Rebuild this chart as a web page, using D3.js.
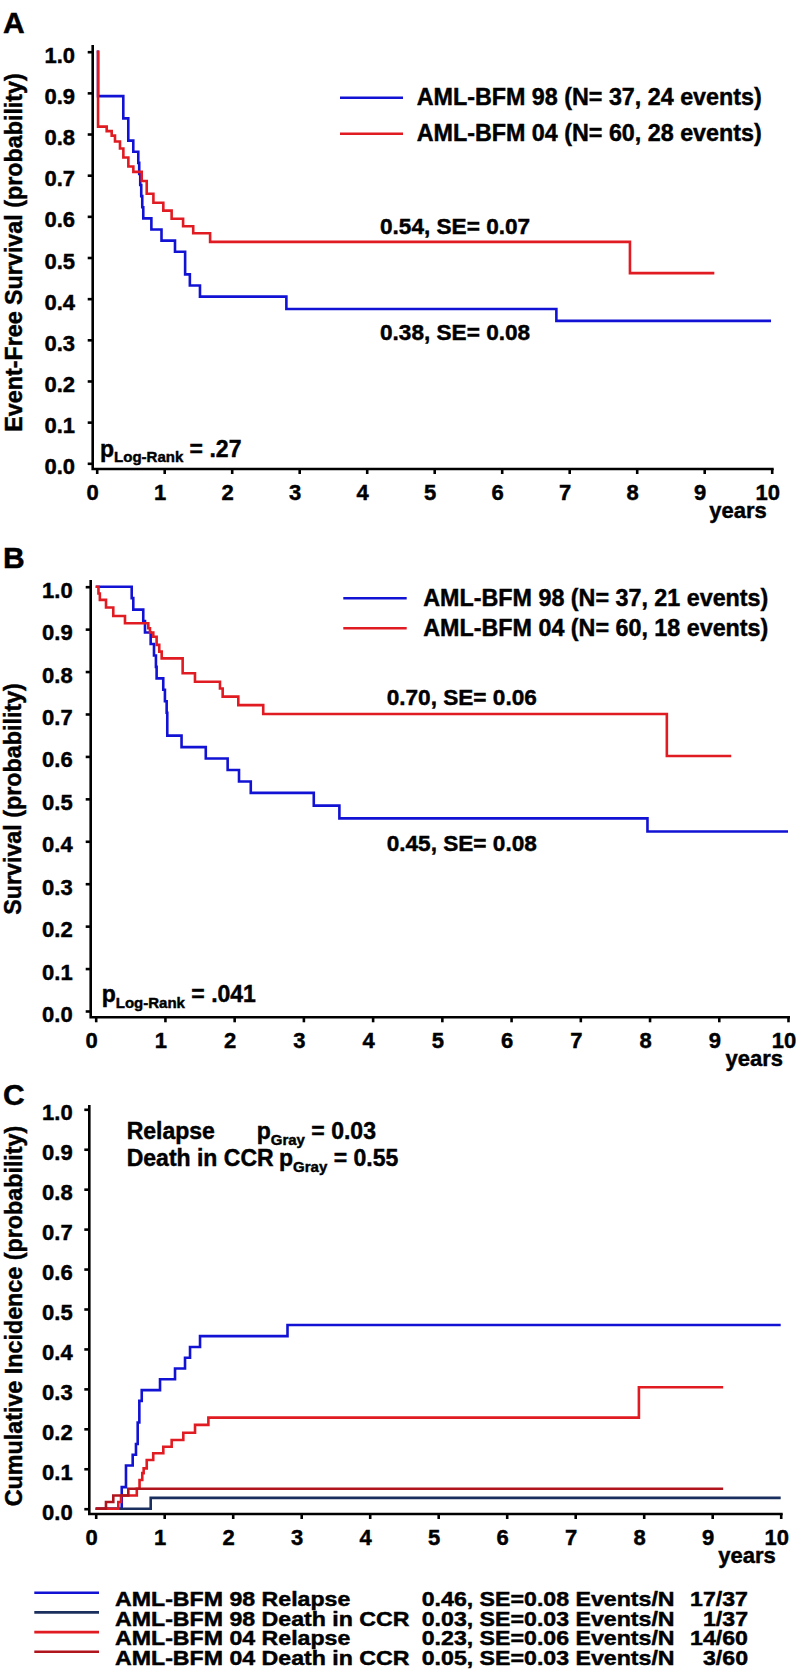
<!DOCTYPE html>
<html>
<head>
<meta charset="utf-8">
<script src="https://cdn.jsdelivr.net/npm/d3@7"></script>
<style>
  body { margin: 0; background: #fff; }
  svg { display: block; }
  text { font-family: "Liberation Sans", Arial, Helvetica, sans-serif; font-weight: bold; fill: #000; stroke: #000; stroke-width: 0.45px; }
</style>
</head>
<body>
<div id="chart"></div>
<script>
// tick values shared by the three panels
var xTicks = [0, 1, 2, 3, 4, 5, 6, 7, 8, 9, 10];
var yTicks = [0, 0.1, 0.2, 0.3, 0.4, 0.5, 0.6, 0.7, 0.8, 0.9, 1.0];

// A: event-free survival (years, probability)
var efs98Times  = [0, 0.02, 0.394, 0.468, 0.542, 0.616, 0.63, 0.645, 0.66, 0.675, 0.69, 0.81, 0.96, 1.16, 1.31, 1.38, 1.53, 2.81, 6.81, 9.99];
var efs98Values = [1, 0.892, 0.838, 0.784, 0.757, 0.730, 0.703, 0.676, 0.649, 0.622, 0.595, 0.568, 0.541, 0.514, 0.459, 0.432, 0.405, 0.375, 0.346, 0.346];
var efs04Times  = [0, 0.02, 0.148, 0.222, 0.271, 0.345, 0.395, 0.469, 0.543, 0.667, 0.741, 0.84, 0.987, 1.11, 1.28, 1.43, 1.68, 7.9, 9.15];
var efs04Values = [1, 0.818, 0.807, 0.796, 0.782, 0.765, 0.743, 0.721, 0.708, 0.686, 0.655, 0.633, 0.614, 0.594, 0.576, 0.559, 0.538, 0.462, 0.462];

// B: overall survival
var os98Times  = [0, 0.52, 0.543, 0.687, 0.712, 0.794, 0.842, 0.87, 0.88, 0.976, 1.0, 1.025, 1.034, 1.24, 1.59, 1.906, 2.07, 2.24, 3.15, 3.52, 7.97, 10];
var os98Values = [1, 0.973, 0.946, 0.919, 0.892, 0.865, 0.838, 0.811, 0.784, 0.757, 0.730, 0.703, 0.649, 0.622, 0.595, 0.568, 0.541, 0.514, 0.484, 0.454, 0.423, 0.423];
var os04Times  = [0, 0.04, 0.06, 0.149, 0.254, 0.423, 0.76, 0.784, 0.832, 0.88, 0.918, 0.953, 1.256, 1.434, 1.795, 1.834, 2.06, 2.42, 8.25, 9.18];
var os04Values = [1, 0.984, 0.969, 0.951, 0.931, 0.914, 0.902, 0.892, 0.882, 0.863, 0.847, 0.831, 0.796, 0.776, 0.760, 0.741, 0.721, 0.700, 0.601, 0.601];

// C: cumulative incidence
var rel98Times  = [0, 0.38, 0.442, 0.54, 0.588, 0.613, 0.637, 0.672, 0.939, 1.158, 1.304, 1.377, 1.523, 2.80, 10];
var rel98Values = [0, 0.054, 0.108, 0.135, 0.162, 0.216, 0.270, 0.297, 0.324, 0.351, 0.378, 0.405, 0.432, 0.460, 0.460];
var dth98Times  = [0, 0.803, 10];
var dth98Values = [0, 0.027, 0.027];
var rel04Times  = [0, 0.33, 0.37, 0.60, 0.64, 0.68, 0.70, 0.745, 0.84, 0.987, 1.109, 1.279, 1.45, 1.645, 7.93, 9.16];
var rel04Values = [0, 0.0167, 0.033, 0.05, 0.072, 0.089, 0.101, 0.122, 0.139, 0.155, 0.172, 0.190, 0.210, 0.228, 0.304, 0.304];
var dth04Times  = [0, 0.15, 0.257, 0.476, 9.16];
var dth04Values = [0, 0.0167, 0.033, 0.05, 0.05];

var efsLegend = ['AML-BFM 98 (N= 37, 24 events)', 'AML-BFM 04 (N= 60, 28 events)'];
var osLegend  = ['AML-BFM 98 (N= 37, 21 events)', 'AML-BFM 04 (N= 60, 18 events)'];
var ciNames   = ['AML-BFM 98 Relapse', 'AML-BFM 98 Death in CCR', 'AML-BFM 04 Relapse', 'AML-BFM 04 Death in CCR'];
var ciStats   = ['0.46, SE=0.08 Events/N', '0.03, SE=0.03 Events/N', '0.23, SE=0.06 Events/N', '0.05, SE=0.03 Events/N'];
var ciCounts  = ['17/37', '1/37', '14/60', '3/60'];

var BLUE = '#1212d4', RED = '#e11b22', NAVY = '#1b2f5e', DARKRED = '#b0151d';

var svg = d3.select('#chart')
    .append('svg')
    .attr('width', 799)
    .attr('height', 1669);

function label(x, y, str, size, anchor) {
    return svg.append('text')
        .attr('x', x)
        .attr('y', y)
        .attr('text-anchor', anchor || 'start')
        .style('font-size', size + 'px')
        .text(str);
}

// p with a subscript, e.g. p_Log-Rank = .27
function pValue(x, y, sub, rest, shift) {
    var t = svg.append('text')
        .attr('x', x)
        .attr('y', y)
        .style('font-size', '23px');
    t.append('tspan').text('p');
    t.append('tspan').attr('dy', shift).style('font-size', '15px').text(sub);
    t.append('tspan').attr('dy', -shift).text(rest);
}

function drawPanel(p) {
    var x = d3.scaleLinear().domain([0, 10]).range([p.x0, p.x10]);
    var y = d3.scaleLinear().domain([0, 1]).range([p.y0, p.y1]);
    var g = svg.append('g');

    var yAxis = g.append('g')
        .attr('transform', 'translate(' + p.axisX + ',0)')
        .call(d3.axisLeft(y).tickValues(yTicks).tickFormat(d3.format('.1f')).tickSize(5).tickSizeOuter(0));
    yAxis.select('.domain').remove();
    yAxis.selectAll('line').attr('stroke', '#000').attr('stroke-width', 2.6);
    yAxis.selectAll('text')
        .attr('x', p.yLabelDx)
        .attr('dy', null)
        .attr('y', 10.5)
        .style('font-size', '22px');

    var xAxis = g.append('g')
        .attr('transform', 'translate(0,' + p.xAxisY + ')')
        .call(d3.axisBottom(x).tickValues(xTicks).tickSize(5).tickSizeOuter(0));
    xAxis.select('.domain').remove();
    xAxis.selectAll('line').attr('stroke', '#000').attr('stroke-width', 2.6);
    xAxis.selectAll('text')
        .attr('x', -4.5)
        .attr('dy', null)
        .attr('y', 31)
        .style('font-size', '22px');

    // the two axis lines meet in a corner left of x = 0
    g.append('path')
        .attr('d', 'M' + p.axisX + ',' + p.axisTop + 'V' + p.xAxisY + 'H' + (x(10) + 2))
        .attr('fill', 'none')
        .attr('stroke', '#000')
        .attr('stroke-width', 2.6);

    label(x(10) - 5, p.xAxisY + 49, 'years', 22, 'end');

    var line = d3.line()
        .x(function (d) { return x(d[0]); })
        .y(function (d) { return y(d[1]); })
        .curve(d3.curveStepAfter);

    p.series.forEach(function (s) {
        g.append('path')
            .datum(d3.zip(s.times, s.values))
            .attr('d', line)
            .attr('fill', 'none')
            .attr('stroke', s.color)
            .attr('stroke-width', 2.6);
    });

    svg.append('text')
        .attr('transform', 'translate(' + p.titleX + ',' + p.titleY + ') rotate(-90)')
        .attr('text-anchor', 'middle')
        .style('font-size', '23.3px')
        .text(p.title);

    label(3, p.letterY, p.letter, 30);
}

drawPanel({
    letter: 'A', letterY: 33,
    title: 'Event-Free Survival (probability)', titleX: 21.7, titleY: 252.5,
    axisX: 92.7, axisTop: 45, xAxisY: 469, yLabelDx: -17.7,
    x0: 96.7, x10: 771.7, y0: 463.3, y1: 51.7,
    series: [
        {times: efs98Times, values: efs98Values, color: BLUE},
        {times: efs04Times, values: efs04Values, color: RED}
    ]
});

drawPanel({
    letter: 'B', letterY: 568,
    title: 'Survival (probability)', titleX: 20.5, titleY: 799,
    axisX: 90.7, axisTop: 580, xAxisY: 1017.3, yLabelDx: -18,
    x0: 95.7, x10: 788, y0: 1011, y1: 586.7,
    series: [
        {times: os98Times, values: os98Values, color: BLUE},
        {times: os04Times, values: os04Values, color: RED}
    ]
});

drawPanel({
    letter: 'C', letterY: 1105,
    title: 'Cumulative Incidence (probability)', titleX: 21.7, titleY: 1316,
    axisX: 89.3, axisTop: 1105, xAxisY: 1514, yLabelDx: -16.6,
    x0: 95.7, x10: 780.7, y0: 1508.7, y1: 1109.3,
    series: [
        {times: rel98Times, values: rel98Values, color: BLUE},
        {times: dth98Times, values: dth98Values, color: NAVY},
        {times: rel04Times, values: rel04Values, color: RED},
        {times: dth04Times, values: dth04Values, color: DARKRED}
    ]
});

// legends of A and B
function legendAB(names, x1, x2, textX, ys) {
    names.forEach(function (n, i) {
        svg.append('line')
            .attr('x1', x1).attr('x2', x2)
            .attr('y1', ys[i]).attr('y2', ys[i])
            .attr('stroke', i ? RED : BLUE)
            .attr('stroke-width', 2.6);
        label(textX, ys[i] + 7.5, n, 23.3);
    });
}
legendAB(efsLegend, 340, 403, 416.7, [97.7, 133.7]);
legendAB(osLegend, 343.3, 406.7, 423.3, [598.3, 628.3]);

// estimates at 5 years
label(380, 234, '0.54, SE= 0.07', 22.6);
label(380, 340, '0.38, SE= 0.08', 22.6);
label(386.7, 705, '0.70, SE= 0.06', 22.6);
label(386.7, 851, '0.45, SE= 0.08', 22.6);

pValue(100, 456.7, 'Log-Rank', ' = .27', 5);
pValue(101.7, 1001.7, 'Log-Rank', ' = .041', 6.5);

label(126.7, 1139.3, 'Relapse', 23);
pValue(256.7, 1139.3, 'Gray', ' = 0.03', 5.7);
label(126.7, 1166, 'Death in CCR', 23);
pValue(279, 1166, 'Gray', ' = 0.55', 5.7);

// bottom legend of C, the text is a bit wider than tall
var ciColors = [BLUE, NAVY, RED, DARKRED];
function wideText(x, y, str, anchor) {
    svg.append('text')
        .attr('transform', 'translate(' + x + ',' + y + ') scale(1.17,1)')
        .attr('text-anchor', anchor || 'start')
        .style('font-size', '19.8px')
        .text(str);
}
ciNames.forEach(function (n, i) {
    var base = 1606 + i * 19.7;
    svg.append('line')
        .attr('x1', 34.3).attr('x2', 99)
        .attr('y1', base - 13.3).attr('y2', base - 13.3)
        .attr('stroke', ciColors[i])
        .attr('stroke-width', 2.6);
    wideText(115, base, n);
    wideText(421.7, base, ciStats[i]);
    wideText(748, base, ciCounts[i], 'end');
});
</script>
</body>
</html>
